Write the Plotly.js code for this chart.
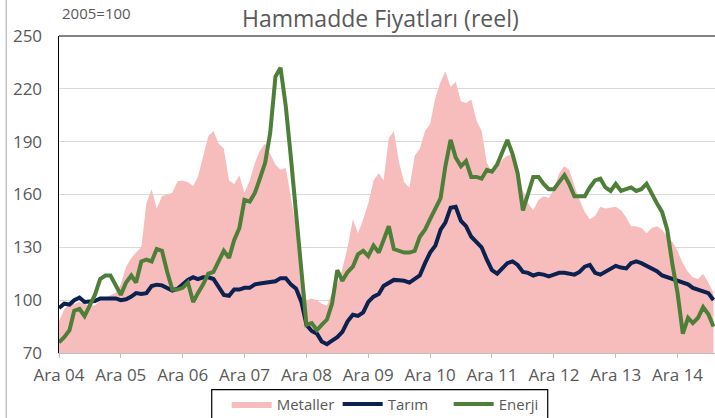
<!DOCTYPE html>
<html>
<head>
<meta charset="utf-8">
<script src="https://cdn.plot.ly/plotly-3.0.1.min.js"></script>
<style>html,body{margin:0;padding:0;background:#fff;}#chart{width:715px;height:418px;}</style>
</head>
<body>
<div id="chart"></div>
<script>
// Monthly series, first month = December 2004
const startYear = 2004;
const startMonth = 12;

const metaller = [88,95,97.5,98,99,98,97,97,100,101,103,104,109,119,124,127,130,155,163,152,159,160,161,167.5,168,167,165,170,182,193,196,189,186,168,166,171,161,168,178,185,189,183,177,174,175,158,140,122,100,101,100,98,97,104,109,118,130,146,138,146,155,168,172,168,192,196,178,167,164,182,186,196,200,215,224,230,221,224,213,212,214,202,196,178,173,175,180,182,183,176,162,155,151,157,159,158,163,172,176,174,165,157,150,146,148,153,152,152.5,153,151,147,142,142,141,138,141,142,140,136,133,128,121,116,113,112,115,110,104];

const tarim = [95.5,98,97.5,100,101.5,99,99.3,99.5,101,101,101,101,100,100.5,102,104,103.5,104,108,108.8,108.4,107,105.5,106.5,109,111.5,113,112,113,113,112,107.5,103,102.5,106,106,107,107,109,109.5,109.8,110.3,110.7,112.5,112.5,108.8,106.5,99,86,82.5,81,76.5,75,77,79,82,88,91.7,91.1,93,99,102,103.5,108,110,111.5,111.3,111,110,112,114,121,127,131,140,144,152.5,153,145,142,136,133,130,123,117,115,118,121,122,120,116,115.5,114,115,114.5,113.5,114.5,115.5,115.5,115,114.5,116,119,120,115.5,114.5,116,117.5,119.5,118.5,118,121,122,121,119.5,118.5,116.5,114,113,112,110.5,109.5,109,107,106,105,104,100];

const enerji = [76,79,83,94,95,91,97,103,112,114,114,108,103,110,114,110,122,123,122,129,128,116,106,106,107,110,99,104,109,115,116,122,128,124,134,141,157,156,161,169,178,195,227,232,210,180,150,121,86,87,83,86,89,98,117,111,116,119,126,128,125,131,127,134,142,129,128,127,127,128,136,140,146,152,158,176,191,181,176,179,170,170,169,174,173,177,184,191,183,172,151,160,170,170,166,163,163,167,171,166,159,159,159,164,168,169,164,162,166,162,163,164,162,163,166,160,155,150,140,120,104,81,90,87,90,96,92,85];

const tickDates = ['2004-12-01','2005-12-01','2006-12-01','2007-12-01','2008-12-01','2009-12-01','2010-12-01','2011-12-01','2012-12-01','2013-12-01','2014-12-01'];
const tickLabels = ['Ara 04','Ara 05','Ara 06','Ara 07','Ara 08','Ara 09','Ara 10','Ara 11','Ara 12','Ara 13','Ara 14'];

const months = metaller.map((_, i) => {
  const t = (startMonth - 1) + i;
  const y = startYear + Math.floor(t / 12);
  const m = (t % 12) + 1;
  return y + '-' + String(m).padStart(2, '0') + '-01';
});

const FONT = 'Open Sans, DejaVu Sans, sans-serif';
const GRAY = '#595959';

const traces = [
  {x: months, y: metaller, name: 'Metaller', type: 'scatter', mode: 'lines',
   fill: 'tozeroy', fillcolor: 'rgb(247,189,189)', line: {width: 0, color: 'rgb(247,189,189)'}},
  {x: months, y: tarim, name: 'Tarım', type: 'scatter', mode: 'lines',
   line: {width: 4, color: '#0b2150'}},
  {x: months, y: enerji, name: 'Enerji', type: 'scatter', mode: 'lines',
   line: {width: 4, color: '#4e7f38'}}
];

const layout = {
  width: 715, height: 418,
  margin: {l: 59, r: 0, t: 36, b: 65, autoexpand: false},
  paper_bgcolor: '#fff', plot_bgcolor: '#fff',
  font: {family: FONT, color: GRAY, size: 15},
  title: {text: 'Hammadde Fiyatları (reel)', font: {family: FONT, size: 23, color: GRAY},
          x: 0.532, xanchor: 'center', y: 0.955, yanchor: 'middle', xref: 'container', yref: 'container'},
  showlegend: true,
  legend: {orientation: 'h', x: 0.2556, xanchor: 'left', y: -0.11, yanchor: 'top',
           xref: 'paper', borderwidth: 0, bgcolor: 'rgba(0,0,0,0)',
           font: {family: FONT, size: 15, color: GRAY}, traceorder: 'normal',
           itemwidth: 40, entrywidth: 56, entrywidthmode: 'pixels'},
  xaxis: {type: 'date', range: ['2004-12-01', '2015-07-10'],
          tickmode: 'array', tickvals: tickDates, ticktext: tickLabels,
          showgrid: false, zeroline: false,
          showline: true, linecolor: '#bfbfbf', linewidth: 1,
          ticks: 'outside', ticklen: 4, tickcolor: '#bfbfbf', ticklabelstandoff: 3,
          tickfont: {family: FONT, size: 17, color: GRAY}, fixedrange: true},
  yaxis: {range: [70, 250], tickmode: 'linear', tick0: 70, dtick: 30,
          showgrid: true, gridcolor: '#d9d9d9', gridwidth: 1, zeroline: false,
          showline: true, linecolor: '#000', linewidth: 1.5, ticks: '', ticklabelstandoff: 12,
          tickfont: {family: FONT, size: 17, color: GRAY}, fixedrange: true},
  shapes: [
    {type: 'line', xref: 'paper', yref: 'paper', x0: 0, x1: 1, y0: 1, y1: 1,
     line: {color: '#595959', width: 1.5}, layer: 'above'},
    {type: 'line', xref: 'paper', yref: 'paper', x0: -0.0805, x1: -0.0805, y0: -0.3, y1: 1.2,
     line: {color: '#a6a6a6', width: 1}},
    {type: 'rect', xref: 'paper', yref: 'paper', x0: 0.2328, x1: 0.745, y0: -0.1158, y1: -0.25,
     line: {color: '#000', width: 1.2}, fillcolor: 'rgba(0,0,0,0)'}
  ],
  annotations: [
    {text: '2005=100', xref: 'paper', yref: 'paper', x: 0.002, y: 1.071,
     xanchor: 'left', yanchor: 'middle', showarrow: false,
     font: {family: FONT, size: 15, color: GRAY}}
  ]
};

Plotly.newPlot('chart', traces, layout, {staticPlot: true, displayModeBar: false});
</script>
</body>
</html>
